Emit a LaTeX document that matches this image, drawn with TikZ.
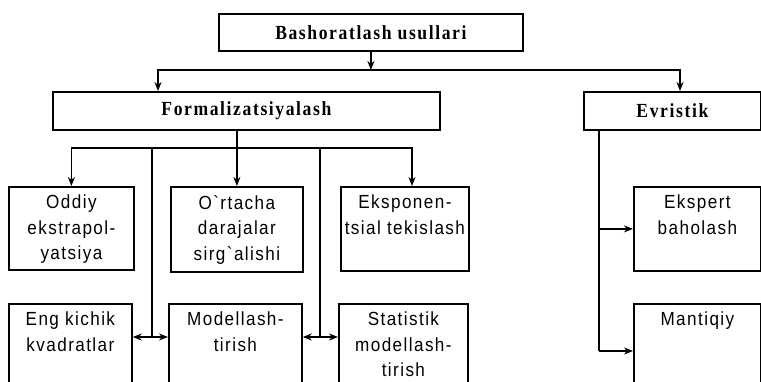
\documentclass[tikz,border=0pt]{standalone}
\usepackage{fontspec}
\newfontfamily\headfont[LetterSpace=8,FakeStretch=0.88]{Liberation Serif}
\newfontfamily\boxfont[LetterSpace=7.5,FakeStretch=0.9]{Liberation Sans}
\usetikzlibrary{arrows.meta}
\begin{document}
\begin{tikzpicture}[x=1pt,y=-1pt,
  box/.style={draw, line width=1.8pt, anchor=north west, inner sep=0pt},
  head/.style={font=\headfont\bfseries\fontsize{20}{22}\selectfont},
  txt/.style={anchor=north, align=center, inner sep=0pt,
              font=\boxfont\fontsize{19}{25.5}\selectfont},
  conn/.style={line width=1.6pt},
  arr/.style={conn, -{Stealth[length=9pt,width=7pt]}},
  darr/.style={conn, {Stealth[length=9pt,width=7pt]}-{Stealth[length=9pt,width=7pt]}}]
\useasboundingbox (0,0) rectangle (761,382);
\clip (0,0) rectangle (761,382);
% boxes
\node[box, head, minimum width=304pt, minimum height=37pt] (top) at (218,13) {Bashoratlash usullari};
\node[box, head, minimum width=387pt, minimum height=38pt] (form) at (52,91) {Formalizatsiyalash};
\node[box, head, minimum width=177pt, minimum height=38pt] (evr) at (583,91) {Evristik};
\node[box, minimum width=125pt, minimum height=83pt] (odd) at (8,186) {};
\node[box, minimum width=132pt, minimum height=85pt] (ort) at (170,186) {};
\node[box, minimum width=128pt, minimum height=84pt] (eks) at (340,186) {};
\node[box, minimum width=123pt, minimum height=100pt] (eng) at (8,303) {};
\node[box, minimum width=133pt, minimum height=100pt] (mod) at (168,303) {};
\node[box, minimum width=129pt, minimum height=100pt] (stat) at (338,303) {};
\node[box, minimum width=127pt, minimum height=84pt] (exp) at (633,186) {};
\node[box, minimum width=127pt, minimum height=100pt] (man) at (633,303) {};
% texts
\node[txt] (toddt) at ([yshift=-9pt]odd.north) {Oddiy\\ekstrapol-\\yatsiya};
\node[txt] (tort) at ([yshift=-9pt]ort.north) {O`rtacha\\darajalar\\sirg`alishi};
\node[txt] (teks) at ([yshift=-9pt]eks.north) {Eksponen-\\tsial tekislash};
\node[txt] (teng) at ([yshift=-9pt]eng.north) {Eng kichik\\kvadratlar};
\node[txt] (tmod) at ([yshift=-9pt]mod.north) {Modellash-\\tirish};
\node[txt] (tstat) at ([yshift=-9pt]stat.north) {Statistik\\modellash-\\tirish};
\node[txt] (texp) at ([yshift=-9pt]exp.north) {Ekspert\\baholash};
\node[txt] (tman) at ([yshift=-9pt]man.north) {Mantiqiy};
% connectors
\coordinate (h1) at (158,70);
\coordinate (h2) at (680,70);
\draw[arr] (top.south) -- (top.south |- h1);
\draw[darr] (h1 |- form.north) -- (h1) -- (h2) -- (h2 |- evr.north);
\coordinate (h3) at (70,148);
\coordinate (h4) at (412,148);
\draw[arr] (ort.north |- form.south) -- (ort.north);
\draw[darr] (odd.north) -- (odd.north |- h3) -- (h4) -- (h4 |- eks.north);
\coordinate (v1) at (152,148);
\coordinate (v1b) at (152,337);
\coordinate (v2) at (320,148);
\coordinate (v2b) at (320,337);
\draw[conn] (v1) -- (v1b);
\draw[conn] (v2) -- (v2b);
\draw[darr] (eng.east |- v1b) -- (mod.west |- v1b);
\draw[darr] (mod.east |- v2b) -- (stat.west |- v2b);
\coordinate (e1) at (599,351);
\draw[conn] (e1 |- evr.south) -- (e1);
\draw[arr] (e1 |- exp.west) -- (exp.west);
\draw[arr] (e1) -- (e1 -| man.west);
\end{tikzpicture}
\end{document}
